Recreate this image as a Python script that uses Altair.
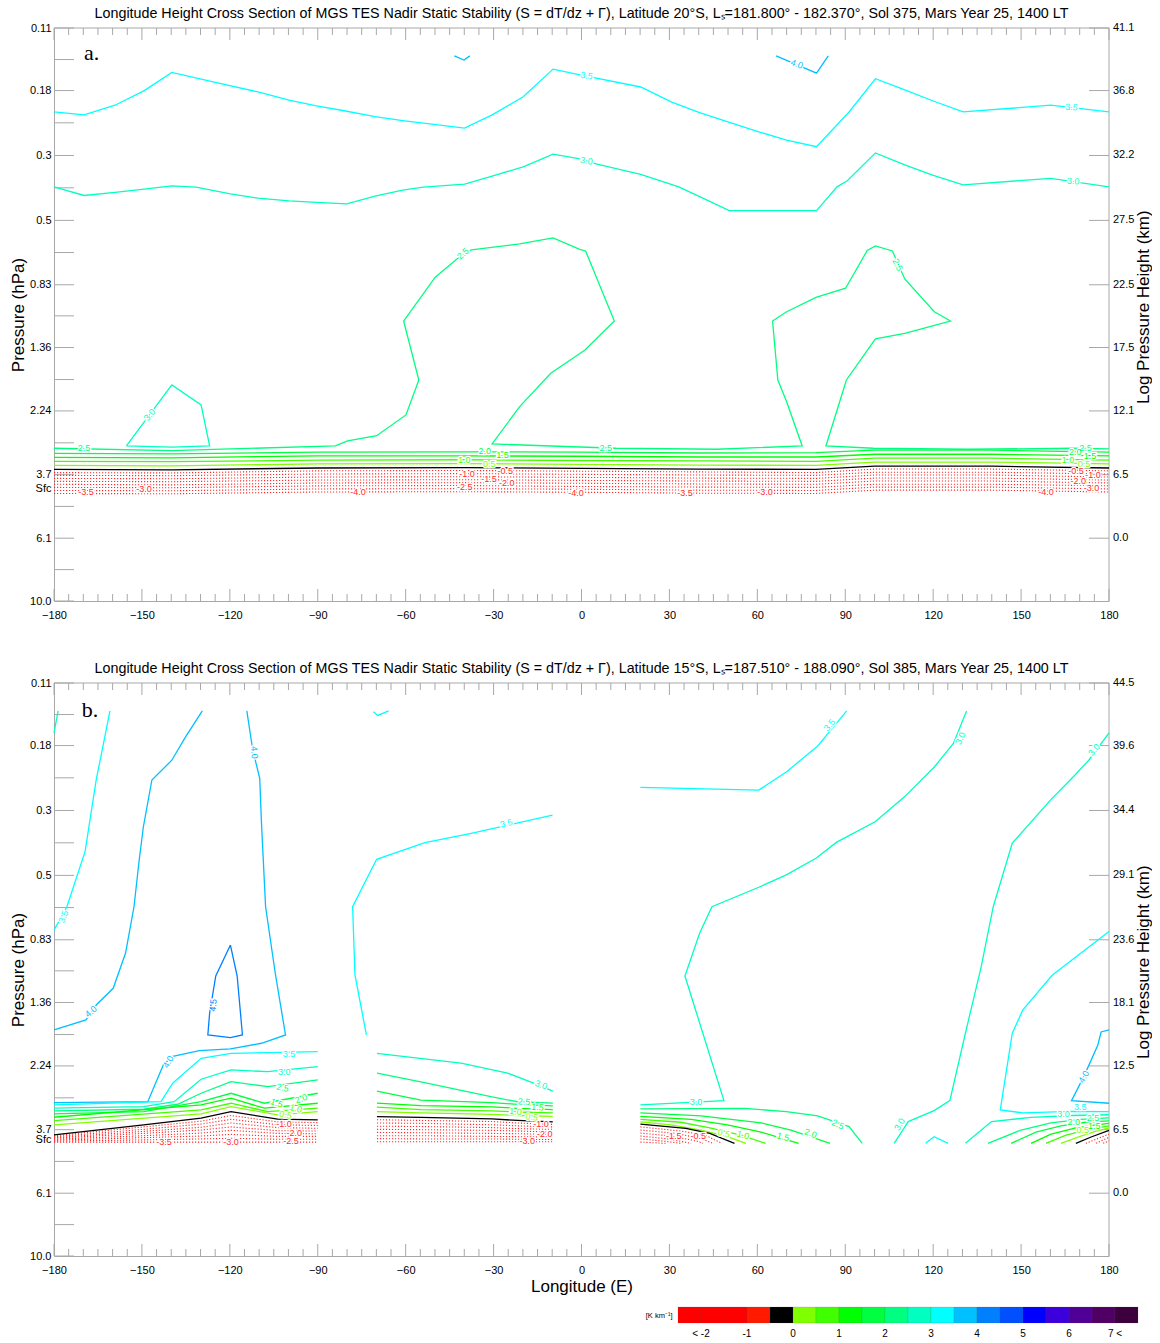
import altair as alt
import pandas as pd

W, H = 1055, 573
FONT = "Liberation Sans"
FRAME = "#a8a8a8"
RED = "#ff2a2a"

# ---------------- colour table (K km^-1) ----------------
CB_LO = [-2.5, -2.0, -1.5, -1.0, -0.5, 0.0, 0.5, 1.0, 1.5, 2.0, 2.5, 3.0, 3.5, 4.0, 4.5, 5.0, 5.5, 6.0, 6.5, 7.0]
CB_HI = [-2.0, -1.5, -1.0, -0.5, 0.0, 0.5, 1.0, 1.5, 2.0, 2.5, 3.0, 3.5, 4.0, 4.5, 5.0, 5.5, 6.0, 6.5, 7.0, 7.5]
CB_COLORS = ["#ff0000", "#ff0000", "#ff0000", "#ff1a00", "#000000", "#80ff00", "#40ff00", "#00ff00",
             "#00ff40", "#00ff80", "#00ffc0", "#00ffff", "#00c0ff", "#0080ff", "#0050ff", "#0000ff",
             "#3c00dc", "#500096", "#500064", "#3c003c"]
CB_TICKS = [-2, -1, 0, 1, 2, 3, 4, 5, 6, 7]
CB_TICK_LABELS = ["< -2", "-1", "0", "1", "2", "3", "4", "5", "6", "7 <"]
CB_UNIT = "[K km\u207b\u00b9]"
LEVEL_COLOR = {hi: c for hi, c in zip(CB_HI, CB_COLORS)}

# ---------------- axes ----------------
P_MAJOR = [0.11, 0.18, 0.3, 0.5, 0.83, 1.36, 2.24, 3.7, 6.1, 10.0]
P_MINOR = [0.141, 0.232, 0.387, 0.644, 1.06, 1.75, 2.88, 4.75, 7.81]
P_LABELS = ["0.11", "0.18", "0.3", "0.5", "0.83", "1.36", "2.24", "3.7", "6.1", "10.0"]
KM_P = [0.11, 0.18, 0.3, 0.5, 0.83, 1.36, 2.24, 3.7, 6.1]
KM_A = ["41.1", "36.8", "32.2", "27.5", "22.5", "17.5", "12.1", "6.5", "0.0"]
KM_B = ["44.5", "39.6", "34.4", "29.1", "23.6", "18.1", "12.5", "6.5", "0.0"]
SFC_A = 4.14
SFC_B = 3.99
LON_MAJOR = list(range(-180, 181, 30))
LON_MINOR = [v for v in range(-175, 180, 5) if v % 30 != 0]

TITLE_A = ("Longitude Height Cross Section of MGS TES Nadir Static Stability (S = dT/dz + \u0393), "
           "Latitude 20\u00b0S, L\u209b=181.800\u00b0 - 182.370\u00b0, Sol 375,  Mars Year 25, 1400 LT")
TITLE_B = ("Longitude Height Cross Section of MGS TES Nadir Static Stability (S = dT/dz + \u0393), "
           "Latitude 15\u00b0S, L\u209b=187.510\u00b0 - 188.090\u00b0, Sol 385,  Mars Year 25, 1400 LT")

# ================= panel a contours (lon, hPa) =================
A_35_LON = [-180, -169.7, -159.2, -149.2, -139.8, -125.7, -110.4, -99.8, -90.4, -81.0, -70.5, -61.0, -39.9, -30.5,
            -19.9, -9.7, -0.5, 20.2, 30.8, 40.3, 51.0, 60.5, 70.0, 80.2, 91.3, 100.3, 110.3, 119.8, 130.2, 160.1, 180]
A_35_P = [0.213, 0.218, 0.202, 0.180, 0.156, 0.168, 0.182, 0.194, 0.203, 0.211, 0.221, 0.228, 0.242, 0.218,
          0.189, 0.152, 0.159, 0.175, 0.197, 0.214, 0.232, 0.249, 0.266, 0.280, 0.213, 0.164, 0.179, 0.195, 0.213, 0.202, 0.213]
A_30_LON = [-180, -169.7, -159.2, -149.2, -139.8, -131.5, -119.8, -110.4, -99.8, -90.4, -80.1, -70.5, -61.0, -54.0,
            -39.9, -30.5, -19.9, -9.7, -0.5, 5.3, 20.2, 33.2, 40.3, 50.4, 80.2, 87.2, 90.7, 100.3, 110.3, 119.8, 130.2, 160.1, 180]
A_30_P = [0.384, 0.411, 0.401, 0.391, 0.381, 0.385, 0.406, 0.420, 0.429, 0.434, 0.439, 0.413, 0.394, 0.385,
          0.376, 0.353, 0.328, 0.297, 0.308, 0.321, 0.348, 0.384, 0.415, 0.463, 0.463, 0.384, 0.366, 0.294, 0.323, 0.350, 0.378, 0.359, 0.384]
A_40W_LON = [-43.4, -40.1, -38.1]
A_40W_P = [0.137, 0.1415, 0.137]
A_40E_LON = [66.4, 80.2, 84.2]
A_40E_P = [0.137, 0.157, 0.137]
A_30I_LON = [-155.3, -139.8, -129.8, -126.9, -139.8, -155.3]
A_30I_P = [2.951, 1.826, 2.137, 2.951, 2.981, 2.951]
A_25_LON = [-180, -139.8, -84.0, -79.8, -69.9, -59.9, -55.5, -60.7, -49.9, -42.2, -37.6, -21.1, -9.7, -0.6, 1.4,
            11.2, 1.2, -10.5, -21.1, -30.5, 11.8, 46.2, 75.3, 70.0, 67.0, 65.2, 70.0, 80.0, 90.1, 97.5, 100.3,
            106.1, 110.3, 120.4, 125.9, 119.8, 110.3, 100.3, 90.4, 83.4, 99.6, 131.6, 167.2, 180]
A_25_P = [3.005, 3.062, 2.951, 2.838, 2.722, 2.312, 1.756, 1.104, 0.782, 0.674, 0.631, 0.602, 0.574, 0.628, 0.636,
          1.104, 1.387, 1.665, 2.166, 2.905, 3.005, 3.029, 2.951, 2.083, 1.756, 1.104, 1.026, 0.916, 0.853, 0.634, 0.611,
          0.636, 0.793, 1.026, 1.104, 1.148, 1.216, 1.271, 1.756, 2.951, 3.005, 3.029, 3.005, 3.022]
A_BL_LON = [-180, -140, -90, -40, 0, 40, 80, 100, 140, 180]
A_20_P = [3.13, 3.14, 3.10, 3.09, 3.10, 3.12, 3.11, 3.05, 3.05, 3.10]
A_15_P = [3.23, 3.24, 3.19, 3.19, 3.20, 3.22, 3.22, 3.15, 3.15, 3.19]
A_10_P = [3.33, 3.34, 3.30, 3.29, 3.31, 3.32, 3.33, 3.25, 3.25, 3.30]
A_05_P = [3.44, 3.45, 3.40, 3.39, 3.41, 3.43, 3.44, 3.35, 3.35, 3.40]
A_00_P = [3.55, 3.56, 3.51, 3.50, 3.52, 3.54, 3.55, 3.46, 3.46, 3.51]
A_N05_P = [3.64, 3.65, 3.59, 3.58, 3.60, 3.62, 3.64, 3.54, 3.54, 3.59]
A_N10_P = [3.72, 3.73, 3.68, 3.67, 3.69, 3.71, 3.72, 3.63, 3.63, 3.68]
A_N15_P = [3.81, 3.82, 3.77, 3.76, 3.78, 3.80, 3.81, 3.71, 3.71, 3.77]
A_N20_P = [3.90, 3.91, 3.86, 3.85, 3.87, 3.89, 3.90, 3.80, 3.80, 3.86]
A_N25_P = [3.99, 4.01, 3.95, 3.94, 3.96, 3.98, 3.99, 3.89, 3.89, 3.95]
A_N30_P = [4.09, 4.10, 4.04, 4.03, 4.06, 4.08, 4.09, 3.99, 3.99, 4.04]
A_N35_P = [4.19, 4.20, 4.14, 4.13, 4.15, 4.18, 4.19, 4.08, 4.08, 4.14]
A_N40_P = [4.29, 4.30, 4.24, 4.23, 4.25, 4.28, 4.29, 4.18, 4.18, 4.24]

A_LAB_TEXT = ["3.5", "3.5", "3.0", "3.0", "4.0", "3.0", "2.5", "2.5", "2.5", "2.5", "2.5",
              "2.0", "1.5", "1.0", "0.5", "2.0", "1.5", "1.0", "0.5"]
A_LAB_LON = [1.7, 167.2, 1.7, 167.8, 73.5, -147.4, -169.8, -40.5, 8.3, 107.9, 172.0,
             -33.0, -27.0, -40.0, -31.5, 168.5, 173.5, 166.0, 171.5]
A_LAB_P = [0.160, 0.205, 0.313, 0.367, 0.146, 2.31, 3.00, 0.65, 3.00, 0.71, 3.00,
           3.06, 3.17, 3.29, 3.40, 3.10, 3.20, 3.29, 3.39]
A_LAB_LEVEL = [3.5, 3.5, 3.0, 3.0, 4.0, 3.0, 2.5, 2.5, 2.5, 2.5, 2.5, 2.0, 1.5, 1.0, 0.5, 2.0, 1.5, 1.0, 0.5]
A_LAB_ANGLE = [8, 4, 10, 4, 20, 310, 0, 318, 0, 65, 0, 0, 0, 0, 0, 0, 0, 0, 0]
A_RLAB_TEXT = ["-3.5", "-3.0", "-4.0", "-1.0", "-1.5", "-0.5", "-2.0", "-2.5", "-4.0", "-3.5", "-3.0", "-4.0",
               "-0.5", "-1.0", "-2.0", "-3.0"]
A_RLAB_LON = [-169.1, -149.3, -76.3, -39.1, -31.6, -26.0, -25.5, -39.8, -1.9, 35.3, 62.6, 158.5,
              168.7, 174.5, 169.5, 174.0]
A_RLAB_P = [4.24, 4.14, 4.24, 3.68, 3.83, 3.60, 3.95, 4.09, 4.27, 4.27, 4.24, 4.24, 3.60, 3.72, 3.90, 4.12]

# ================= panel b contours (lon, hPa) =================
B_30T_LON = [-178.6, -180]
B_30T_P = [0.137, 0.163]
B_35L_LON = [-160.9, -165.6, -169.4, -175.6, -180]
B_35L_P = [0.137, 0.236, 0.415, 0.640, 0.769]
B_40L_LON = [-180, -169.1, -165.6, -159.8, -155.6, -152.7, -151.0, -149.5, -146.6, -139.8, -135.1, -129.4]
B_40L_P = [1.688, 1.560, 1.387, 1.216, 0.923, 0.640, 0.449, 0.341, 0.236, 0.202, 0.168, 0.137]
B_40R_LON = [-114.2, -112.2, -109.8, -109.2, -107.8, -104.5, -101.0, -109.2, -119.8, -130.4, -139.8, -142.7, -148.0, -180]
B_40R_P = [0.137, 0.186, 0.233, 0.332, 0.640, 1.080, 1.756, 1.874, 1.960, 1.987, 2.083, 2.223, 2.968, 2.991]
B_45_LON = [-119.8, -117.5, -115.7, -119.8, -127.5, -126.9, -124.8, -119.8]
B_45_P = [0.865, 1.104, 1.756, 1.793, 1.756, 1.480, 1.104, 0.865]
B_35B_LON = [-180, -143.5, -139.5, -129.8, -119.6, -90.0]
B_35B_P = [3.045, 2.968, 2.568, 2.109, 2.028, 2.002]
B_30B_LON = [-180, -149.4, -139.0, -129.8, -119.6, -107.1, -90.0]
B_30B_P = [3.125, 3.086, 2.968, 2.488, 2.312, 2.343, 2.253]
B_25B_LON = [-180, -149.4, -137.8, -129.8, -119.6, -107.1, -90.0]
B_25B_P = [3.192, 3.150, 3.029, 2.778, 2.535, 2.637, 2.502]
B_20B_LON = [-180, -149.4, -129.8, -119.6, -108.2, -90.0]
B_20B_P = [3.268, 3.210, 2.968, 2.778, 3.005, 2.778]
B_15B_LON = [-180, -129.8, -119.6, -108.2, -90.0]
B_15B_P = [3.355, 3.045, 2.889, 3.125, 3.005]
B_10B_LON = [-180, -129.8, -119.6, -107.1, -90.0]
B_10B_P = [3.446, 3.167, 3.005, 3.210, 3.125]
B_05B_LON = [-180, -129.8, -119.6, -103.7, -90.0]
B_05B_P = [3.565, 3.268, 3.086, 3.294, 3.210]
B_LB_LON = [-180, -149.4, -129.8, -119.6, -103.7, -90.0]
B_00B_P = [3.857, 3.565, 3.381, 3.210, 3.407, 3.427]
B_LB_N05 = [3.88, 3.62, 3.46, 3.31, 3.48, 3.50]
B_LB_N10 = [3.91, 3.69, 3.54, 3.41, 3.56, 3.58]
B_LB_N15 = [3.94, 3.75, 3.63, 3.51, 3.64, 3.66]
B_LB_N20 = [3.96, 3.81, 3.71, 3.62, 3.73, 3.74]
B_LB_N25 = [3.99, 3.88, 3.80, 3.72, 3.81, 3.82]
B_LB_N30 = [4.02, 3.94, 3.89, 3.84, 3.90, 3.90]
B_LB_N35 = [4.05, 4.01, 3.98, 3.96, 3.99, 3.99]
B_LB_N40 = [4.08, 4.08, 4.08, 4.08, 4.08, 4.08]

B_35M_LON = [-73.4, -77.3, -78.1, -69.9, -53.4, -37.6, -9.9]
B_35M_P = [1.756, 1.095, 0.640, 0.4405, 0.3866, 0.359, 0.311]
B_35V_LON = [-71.0, -69.5, -65.8]
B_35V_P = [0.138, 0.142, 0.137]
B_30M_LON = [-69.8, -41.1, -25.2, -16.1, -9.8]
B_30M_P = [2.03, 2.19, 2.37, 2.57, 2.73]
B_MID_LON = [-69.8, -54.8, -30.5, -21.8, -9.8]
B_25M_P = [2.37, 2.54, 2.86, 2.97, 3.00]
B_20M_P = [2.73, 2.93, 2.99, 3.03, 3.07]
B_15M_P = [3.00, 3.06, 3.09, 3.13, 3.16]
B_10M_P = [3.10, 3.16, 3.19, 3.22, 3.24]
B_05M_P = [3.21, 3.24, 3.28, 3.31, 3.33]
B_00M_P = [3.34, 3.36, 3.40, 3.44, 3.48]
B_MB_N05 = [3.42, 3.44, 3.47, 3.51, 3.55]
B_MB_N10 = [3.51, 3.52, 3.56, 3.59, 3.62]
B_MB_N15 = [3.60, 3.61, 3.64, 3.67, 3.69]
B_MB_N20 = [3.69, 3.70, 3.72, 3.74, 3.77]
B_MB_N25 = [3.78, 3.79, 3.81, 3.82, 3.84]
B_MB_N30 = [3.88, 3.88, 3.90, 3.91, 3.92]
B_MB_N35 = [3.97, 3.98, 3.98, 3.99, 4.00]
B_MB_N40 = [4.07, 4.07, 4.07, 4.07, 4.07]

B_35U_LON = [20.1, 60.5, 70.0, 80.6, 90.5]
B_35U_P = [0.250, 0.2554, 0.2211, 0.1806, 0.137]
B_30C_LON = [131.4, 126.9, 120.4, 110.3, 100.2, 87.1, 80.0, 69.9, 60.5, 44.5, 40.3, 35.3, 48.6, 20.1]
B_30C_P = [0.137, 0.177, 0.213, 0.269, 0.328, 0.385, 0.437, 0.498, 0.549, 0.640, 0.788, 1.104, 2.944, 3.045]
B_30R_LON = [106.7, 111.5, 120.3, 125.7, 131.0, 136.4, 140.5, 147.0, 160.1, 168.4, 173.1, 180]
B_30R_P = [4.12, 3.472, 3.185, 2.944, 1.732, 1.026, 0.640, 0.388, 0.276, 0.227, 0.202, 0.163]
B_35V2_LON = [117.4, 120.3, 125.1]
B_35V2_P = [4.12, 3.91, 4.12]
B_35R_LON = [180, 160.7, 150.6, 147.0, 142.9, 150.6, 167.0, 180]
B_35R_P = [0.778, 1.095, 1.442, 1.732, 3.167, 3.243, 3.205, 3.210]
B_40RR_LON = [180, 177.3, 176.2, 171.4, 167.2, 180]
B_40RR_P = [1.688, 1.715, 1.899, 2.437, 2.944, 3.005]

B_25C_LON = [20.1, 55.7, 69.9, 80.6, 91.3, 95.8]
B_25C_P = [3.14, 3.13, 3.21, 3.32, 3.61, 4.12]
B_20C_LON = [20.1, 40.8, 61.3, 71.5, 84.8]
B_20C_P = [3.24, 3.32, 3.51, 3.71, 4.12]
B_15C_LON = [20.1, 37.4, 49.8, 61.3, 74.1]
B_15C_P = [3.33, 3.41, 3.56, 3.77, 4.12]
B_10C_LON = [20.1, 33.9, 43.8, 54.4, 62.8]
B_10C_P = [3.41, 3.49, 3.65, 3.86, 4.12]
B_05C_LON = [20.1, 30.5, 40.8, 49.3, 56.1]
B_05C_P = [3.48, 3.56, 3.71, 3.89, 4.12]
B_00C_LON = [20.1, 35.6, 43.8, 52.2]
B_00C_P = [3.54, 3.66, 3.81, 4.12]
B_RC1_LON = [20.1, 33.9, 42.1, 47.9]
B_RC1_P = [3.62, 3.74, 3.86, 4.12]
B_RC2_LON = [20.1, 32.2, 40.8, 44.8]
B_RC2_P = [3.71, 3.81, 3.97, 4.12]
B_RC3_LON = [20.1, 30.5, 39.1, 41.5]
B_RC3_P = [3.80, 3.89, 4.04, 4.12]
B_RC4_LON = [20.1, 28.8, 37.4]
B_RC4_P = [3.89, 3.97, 4.12]
B_RC5_LON = [20.1, 27.1, 33.9]
B_RC5_P = [3.98, 4.04, 4.12]
B_RC6_LON = [20.1, 28.8]
B_RC6_P = [4.08, 4.12]

B_30E_LON = [131.0, 139.9, 153.4, 167.0, 180]
B_30E_P = [4.12, 3.47, 3.36, 3.31, 3.29]
B_25E_LON = [138.7, 150.0, 160.2, 170.4, 180]
B_25E_P = [4.12, 3.71, 3.51, 3.41, 3.37]
B_20E_LON = [146.6, 155.1, 163.6, 172.1, 180]
B_20E_P = [4.12, 3.77, 3.59, 3.49, 3.45]
B_15E_LON = [153.4, 160.2, 168.7, 175.6, 180]
B_15E_P = [4.12, 3.83, 3.65, 3.56, 3.52]
B_10E_LON = [158.5, 165.3, 172.1, 180]
B_10E_P = [4.12, 3.86, 3.71, 3.59]
B_05E_LON = [163.6, 170.4, 175.6, 180]
B_05E_P = [4.12, 3.89, 3.74, 3.65]
B_00E_LON = [168.7, 173.9, 180]
B_00E_P = [4.12, 3.92, 3.72]
B_RE1_LON = [172.1, 180]
B_RE1_P = [4.12, 3.83]
B_RE2_LON = [175.6, 180]
B_RE2_P = [4.12, 3.93]
B_RE3_LON = [178.0, 180]
B_RE3_P = [4.12, 4.04]

B_LAB_TEXT = ["3.5", "4.0", "4.0", "4.5", "4.0", "3.5", "3.0", "2.5", "2.0", "1.5", "1.0", "0.5",
              "3.5", "3.0", "2.5", "1.5", "1.0", "0.5", "3.5", "3.0", "3.0", "2.5", "2.0", "1.5", "1.0", "0.5",
              "3.0", "3.0", "4.0", "3.5", "3.0", "2.5", "2.0", "1.5", "0.5"]
B_LAB_LON = [-176.8, -167.4, -111.6, -125.7, -141.0, -99.8, -101.4, -102.0, -95.7, -104.0, -97.5, -101.0,
             -25.7, -13.8, -19.6, -15.0, -22.5, -17.0, 84.6, 129.3, 39.1, 87.5, 78.2, 68.8, 55.1, 48.6,
             108.5, 174.9, 171.4, 170.2, 164.5, 174.5, 168.0, 175.0, 171.0]
B_LAB_P = [0.692, 1.46, 0.19, 1.39, 2.17, 2.04, 2.35, 2.66, 2.90, 3.00, 3.13, 3.29,
           0.332, 2.60, 2.97, 3.10, 3.21, 3.35, 0.153, 0.17, 2.98, 3.55, 3.81, 3.91, 3.86, 3.81,
           3.55, 0.186, 2.44, 3.09, 3.27, 3.38, 3.48, 3.59, 3.70]
B_LAB_LEVEL = [3.5, 4.0, 4.0, 4.5, 4.0, 3.5, 3.0, 2.5, 2.0, 1.5, 1.0, 0.5,
               3.5, 3.0, 2.5, 1.5, 1.0, 0.5, 3.5, 3.0, 3.0, 2.5, 2.0, 1.5, 1.0, 0.5,
               3.0, 3.0, 4.0, 3.5, 3.0, 2.5, 2.0, 1.5, 0.5]
B_LAB_ANGLE = [290, 320, 85, 275, 300, 0, 0, 10, 340, 20, 15, 10,
               345, 20, 5, 5, 5, 5, 310, 295, 0, 25, 20, 15, 15, 15,
               300, 310, 300, 0, 0, 0, 0, 0, 0]
B_RLAB_TEXT = ["-3.5", "-3.0", "-2.5", "-1.0", "-2.0", "-1.0", "-2.0", "-3.0", "-1.5", "-0.5"]
B_RLAB_LON = [-142.5, -119.6, -99.1, -101.5, -98.0, -13.8, -12.5, -18.5, 31.5, 39.8]
B_RLAB_P = [4.07, 4.07, 4.05, 3.55, 3.80, 3.55, 3.82, 4.05, 3.88, 3.88]

A_SEGS = [
    (3.5, A_35_LON, A_35_P), (3.0, A_30_LON, A_30_P), (4.0, A_40W_LON, A_40W_P), (4.0, A_40E_LON, A_40E_P),
    (3.0, A_30I_LON, A_30I_P), (2.5, A_25_LON, A_25_P), (2.0, A_BL_LON, A_20_P), (1.5, A_BL_LON, A_15_P),
    (1.0, A_BL_LON, A_10_P), (0.5, A_BL_LON, A_05_P), (0.0, A_BL_LON, A_00_P),
]
A_REDS = [(A_BL_LON, p) for p in (A_N05_P, A_N10_P, A_N15_P, A_N20_P, A_N25_P, A_N30_P, A_N35_P, A_N40_P)]

B_SEGS = [
    (3.0, B_30T_LON, B_30T_P), (3.5, B_35L_LON, B_35L_P), (4.0, B_40L_LON, B_40L_P), (4.0, B_40R_LON, B_40R_P),
    (4.5, B_45_LON, B_45_P), (3.5, B_35B_LON, B_35B_P), (3.0, B_30B_LON, B_30B_P), (2.5, B_25B_LON, B_25B_P),
    (2.0, B_20B_LON, B_20B_P), (1.5, B_15B_LON, B_15B_P), (1.0, B_10B_LON, B_10B_P), (0.5, B_05B_LON, B_05B_P),
    (0.0, B_LB_LON, B_00B_P),
    (3.5, B_35M_LON, B_35M_P), (3.5, B_35V_LON, B_35V_P), (3.0, B_30M_LON, B_30M_P),
    (2.5, B_MID_LON, B_25M_P), (2.0, B_MID_LON, B_20M_P), (1.5, B_MID_LON, B_15M_P), (1.0, B_MID_LON, B_10M_P),
    (0.5, B_MID_LON, B_05M_P), (0.0, B_MID_LON, B_00M_P),
    (3.5, B_35U_LON, B_35U_P), (3.0, B_30C_LON, B_30C_P), (3.0, B_30R_LON, B_30R_P), (3.5, B_35V2_LON, B_35V2_P),
    (3.5, B_35R_LON, B_35R_P), (4.0, B_40RR_LON, B_40RR_P),
    (2.5, B_25C_LON, B_25C_P), (2.0, B_20C_LON, B_20C_P), (1.5, B_15C_LON, B_15C_P), (1.0, B_10C_LON, B_10C_P),
    (0.5, B_05C_LON, B_05C_P), (0.0, B_00C_LON, B_00C_P),
    (3.0, B_30E_LON, B_30E_P), (2.5, B_25E_LON, B_25E_P), (2.0, B_20E_LON, B_20E_P), (1.5, B_15E_LON, B_15E_P),
    (1.0, B_10E_LON, B_10E_P), (0.5, B_05E_LON, B_05E_P), (0.0, B_00E_LON, B_00E_P),
]
B_REDS = ([(B_LB_LON, p) for p in (B_LB_N05, B_LB_N10, B_LB_N15, B_LB_N20, B_LB_N25, B_LB_N30, B_LB_N35, B_LB_N40)]
          + [(B_MID_LON, p) for p in (B_MB_N05, B_MB_N10, B_MB_N15, B_MB_N20, B_MB_N25, B_MB_N30, B_MB_N35, B_MB_N40)]
          + [(B_RC1_LON, B_RC1_P), (B_RC2_LON, B_RC2_P), (B_RC3_LON, B_RC3_P), (B_RC4_LON, B_RC4_P),
             (B_RC5_LON, B_RC5_P), (B_RC6_LON, B_RC6_P), (B_RE1_LON, B_RE1_P), (B_RE2_LON, B_RE2_P),
             (B_RE3_LON, B_RE3_P)])


def seg_frame(segs):
    rows = []
    for sid, (lev, lons, ps) in enumerate(segs):
        for i, (lo, pp) in enumerate(zip(lons, ps)):
            rows.append({"seg": sid, "i": i, "lon": lo, "p": pp, "col": LEVEL_COLOR[lev]})
    return pd.DataFrame(rows)


def red_frame(reds):
    rows = []
    for sid, (lons, ps) in enumerate(reds):
        for i, (lo, pp) in enumerate(zip(lons, ps)):
            rows.append({"seg": sid, "i": i, "lon": lo, "p": pp})
    return pd.DataFrame(rows)


def expr(values, labels):
    parts = [f"datum.value == {v} ? '{l}'" for v, l in zip(values, labels)]
    return " : ".join(parts) + " : ''"


XS = alt.Scale(domain=[-180, 180], nice=False, zero=False)
YS = alt.Scale(type="log", domain=[0.11, 10.0], reverse=True, nice=False)


def panel(title, segs, reds, lab, rlab, km, sfc, xtitle, tag, tag_lon, tag_p):
    yaxis = alt.Axis(orient="left", values=P_MAJOR + [sfc], labelExpr=expr(P_MAJOR + [sfc], P_LABELS + ["Sfc"]),
                     ticks=False, domain=True, domainColor=FRAME, domainWidth=1, grid=False, labelPadding=3,
                     labelFlush=False, labelOverlap=False, title="Pressure (hPa)", titleFontSize=17, titlePadding=2)
    xaxis = alt.Axis(orient="bottom", values=LON_MAJOR, format="d", ticks=False, domain=True, domainColor=FRAME,
                     domainWidth=1, grid=False, labelPadding=8, labelFlush=False, labelOverlap=False,
                     title=xtitle if xtitle else "", titleFontSize=17, titlePadding=3)
    xe = alt.X("lon:Q", scale=XS, axis=xaxis)
    ye = alt.Y("p:Q", scale=YS, axis=yaxis)

    lines = alt.Chart(seg_frame(segs)).mark_line(strokeWidth=1.3).encode(
        x=xe, y=ye, detail="seg:N", order="i:Q", color=alt.Color("col:N", scale=None))
    redl = alt.Chart(red_frame(reds)).mark_line(strokeWidth=1.1, strokeDash=[1.2, 1.8], color=RED).encode(
        x=xe, y=ye, detail="seg:N", order="i:Q")

    t, lo, pp, lev, ang = lab
    ldf = pd.DataFrame({"t": t, "lon": lo, "p": pp, "col": [LEVEL_COLOR[v] for v in lev], "ang": ang})
    halo = alt.Chart(ldf).mark_text(font=FONT, fontSize=9, stroke="white", strokeWidth=2.5).encode(
        x=xe, y=ye, text="t:N", angle=alt.Angle("ang:Q", scale=None))
    ltxt = alt.Chart(ldf).mark_text(font=FONT, fontSize=9).encode(
        x=xe, y=ye, text="t:N", angle=alt.Angle("ang:Q", scale=None), color=alt.Color("col:N", scale=None))
    rt, rlo, rp = rlab
    rdf = pd.DataFrame({"t": rt, "lon": rlo, "p": rp})
    rhalo = alt.Chart(rdf).mark_text(font=FONT, fontSize=9, stroke="white", strokeWidth=2.5).encode(
        x=xe, y=ye, text="t:N")
    rtxt = alt.Chart(rdf).mark_text(font=FONT, fontSize=9, color=RED).encode(x=xe, y=ye, text="t:N")

    tagc = alt.Chart(pd.DataFrame({"t": [tag], "lon": [tag_lon], "p": [tag_p]})).mark_text(
        font="Liberation Serif", fontSize=22, align="left", baseline="alphabetic", color="black").encode(
        x=xe, y=ye, text="t:N")

    # inward ticks on the left
    left = alt.Chart(pd.DataFrame({"p": P_MAJOR + P_MINOR})).mark_rule(color=FRAME).encode(
        y=ye, x=alt.value(0), x2=alt.value(20))
    # right side: frame edge, inward ticks, km labels and title
    redge = alt.Chart(pd.DataFrame({"p": [0.11], "p2": [10.0]})).mark_rule(color=FRAME).encode(
        y=ye, y2="p2:Q", x=alt.value(W))
    rdf_km = pd.DataFrame({"p": KM_P, "t": km})
    rticks = alt.Chart(rdf_km).mark_rule(color=FRAME).encode(y=ye, x=alt.value(W - 20), x2=alt.value(W))
    rlabels = alt.Chart(rdf_km).mark_text(font=FONT, fontSize=11, align="left", baseline="middle",
                                          color="black").encode(y=ye, x=alt.value(W + 4), text="t:N")
    rtitle = alt.Chart(pd.DataFrame({"t": ["Log Pressure Height (km)"], "p": [0.99]})).mark_text(
        font=FONT, fontSize=17, angle=270, align="center", baseline="middle", color="black").encode(
        y=ye, x=alt.value(W + 35), text="t:N")

    # top frame edge and ticks on top / bottom
    tedge = alt.Chart(pd.DataFrame({"lon": [-180], "lon2": [180]})).mark_rule(color=FRAME).encode(
        x=xe, x2="lon2:Q", y=alt.value(0))
    bmaj = alt.Chart(pd.DataFrame({"lon": LON_MAJOR})).mark_rule(color=FRAME).encode(
        x=xe, y=alt.value(H), y2=alt.value(H - 12))
    bmin = alt.Chart(pd.DataFrame({"lon": LON_MINOR})).mark_rule(color=FRAME).encode(
        x=xe, y=alt.value(H), y2=alt.value(H - 7))
    tmaj = alt.Chart(pd.DataFrame({"lon": LON_MAJOR})).mark_rule(color=FRAME).encode(
        x=xe, y=alt.value(0), y2=alt.value(12))
    tmin = alt.Chart(pd.DataFrame({"lon": LON_MINOR})).mark_rule(color=FRAME).encode(
        x=xe, y=alt.value(0), y2=alt.value(7))

    return alt.layer(left, redge, tedge, bmaj, bmin, tmaj, tmin, rticks, rlabels, rtitle, redl, lines, halo, ltxt,
                     rhalo, rtxt, tagc).properties(
        width=W, height=H,
        title=alt.TitleParams(text=title, fontSize=14.3, font=FONT, fontWeight="normal", anchor="middle",
                              frame="group", offset=3, dy=13, baseline="alphabetic", color="black"))


panel_a = panel(TITLE_A, A_SEGS, A_REDS, (A_LAB_TEXT, A_LAB_LON, A_LAB_P, A_LAB_LEVEL, A_LAB_ANGLE),
                (A_RLAB_TEXT, A_RLAB_LON, A_RLAB_P), KM_A, SFC_A, None, "a.", -169.8, 0.1415)
panel_b = panel(TITLE_B, B_SEGS, B_REDS, (B_LAB_TEXT, B_LAB_LON, B_LAB_P, B_LAB_LEVEL, B_LAB_ANGLE),
                (B_RLAB_TEXT, B_RLAB_LON, B_RLAB_P), KM_B, SFC_B, "Longitude (E)", "b.", -170.5, 0.1437)

# colour bar: its box spans the panel width; the domain puts the 20 cells at the right
CB_W = 1084
CB_TOP = -31
CBS = alt.Scale(domain=[-16.065, 7.5], nice=False, zero=False)
cb_rect = alt.Chart(pd.DataFrame({"lo": CB_LO, "hi": CB_HI, "col": CB_COLORS})).mark_rect(
    stroke="#555555", strokeWidth=0.3, strokeOpacity=0.5).encode(
    x=alt.X("lo:Q", scale=CBS, axis=None), x2="hi:Q", y=alt.value(CB_TOP), y2=alt.value(CB_TOP + 16),
    color=alt.Color("col:N", scale=None))
cb_lab = alt.Chart(pd.DataFrame({"v": CB_TICKS, "t": CB_TICK_LABELS})).mark_text(
    font=FONT, fontSize=10, baseline="middle", color="black").encode(
    x=alt.X("v:Q", scale=CBS, axis=None), y=alt.value(CB_TOP + 27), text="t:N")
cb_unit = alt.Chart(pd.DataFrame({"t": [CB_UNIT], "v": [-2.62]})).mark_text(
    font=FONT, fontSize=7.5, align="right", baseline="middle", color="black").encode(
    x=alt.X("v:Q", scale=CBS, axis=None), y=alt.value(CB_TOP + 9), text="t:N")
cbar = alt.layer(cb_rect, cb_lab, cb_unit).properties(width=CB_W, height=2)

chart = alt.vconcat(
    panel_a, panel_b, cbar, spacing=82, bounds="flush",
).properties(
    padding={"left": 9, "top": 6, "right": 0, "bottom": 0}
).configure_view(
    stroke=None
).configure_axis(
    labelFont=FONT, labelFontSize=11, labelColor="black", titleFont=FONT, titleFontWeight="normal",
    titleColor="black"
)

chart.save("out.html", embed_options={"renderer": "svg", "actions": False})
